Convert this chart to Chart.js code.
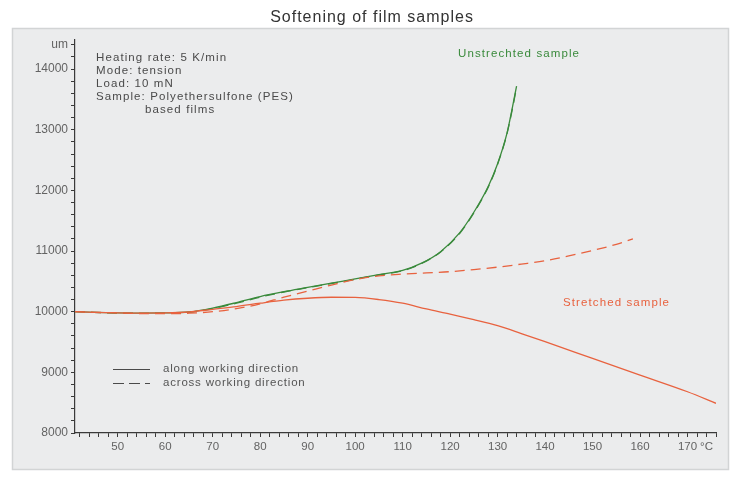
<!DOCTYPE html>
<html>
<head>
<meta charset="utf-8">
<script src="https://cdn.jsdelivr.net/npm/chart.js@4"></script>
<style>
  html, body { margin: 0; padding: 0; background: #fff; }
  #chart { display: block; }
</style>
</head>
<body>
<canvas id="chart" width="731" height="478"></canvas>
<script>
// ───────────────
// Data (temperature in °C, length in um)
const unstretchedTemps  = [41, 45, 50, 55, 60, 65, 70, 75, 80, 85, 90, 95, 100, 105, 110, 114, 118, 122, 125, 128, 130, 132, 133, 134];
const unstretchedAlong  = [10000, 9990, 9982, 9978, 9980, 9995, 10060, 10150, 10250, 10330, 10400, 10470, 10540, 10610, 10680, 10800, 10990, 11300, 11640, 12060, 12440, 12950, 13320, 13720];
const unstretchedAcross = [10000, 9988, 9978, 9974, 9976, 9990, 10050, 10140, 10240, 10325, 10395, 10465, 10535, 10605, 10675, 10795, 10985, 11290, 11630, 12050, 12430, 12940, 13300, 13700];

const stretchedAlongTemps = [41, 45, 50, 55, 60, 65, 70, 75, 80, 85, 90, 95, 100, 105, 110, 115, 120, 125, 130, 135, 140, 150, 160, 170, 176];
const stretchedAlong      = [10000, 9990, 9982, 9978, 9980, 9995, 10040, 10085, 10140, 10190, 10222, 10238, 10235, 10200, 10140, 10045, 9960, 9870, 9770, 9640, 9505, 9230, 8955, 8680, 8490];

const stretchedAcrossTemps = [41, 45, 50, 55, 60, 65, 70, 75, 80, 85, 90, 95, 100, 105, 110, 115, 120, 125, 130, 135, 140, 145, 150, 155, 158.5];
const stretchedAcross      = [10000, 9990, 9980, 9970, 9968, 9975, 10000, 10050, 10130, 10240, 10340, 10440, 10530, 10590, 10620, 10640, 10660, 10695, 10735, 10785, 10840, 10920, 11010, 11110, 11200];

// axis labels
const xLabelTicks = [50, 60, 70, 80, 90, 100, 110, 120, 130, 140, 150, 160, 170];
const yLabelTicks = [8000, 9000, 10000, 11000, 12000, 13000, 14000];
const xUnitTick = 174, xUnit = '°C';
const yUnitTick = 14400, yUnit = 'um';

const GREEN = '#3a8a3c';
const RED   = '#e8623f';
const FONT  = '"Liberation Sans", Arial, sans-serif';

const toPoints = (xs, ys) => xs.map((x, i) => ({ x, y: ys[i] }));

// ───────────────
// Background panel, title, notes and the legend
const decor = {
  id: 'decor',
  beforeDraw(chart) {
    const c = chart.ctx;
    c.save();
    c.fillStyle = '#fff';
    c.fillRect(0, 0, chart.width, chart.height);
    c.fillStyle = '#ebeced';
    c.fillRect(12, 28, 717, 442);
    c.strokeStyle = '#d2d4d5';
    c.lineWidth = 1.5;
    c.strokeRect(12.5, 28.5, 716, 441);
    c.fillStyle = '#333';
    c.font = '16px ' + FONT;
    c.letterSpacing = '1px';
    c.textAlign = 'center';
    c.textBaseline = 'middle';
    c.fillText('Softening of film samples', 372, 18);
    c.restore();
  },
  afterDraw(chart) {
    const c = chart.ctx;
    c.save();
    c.textBaseline = 'middle';
    c.textAlign = 'left';
    c.font = '11.5px ' + FONT;
    c.letterSpacing = '1.1px';
    c.fillStyle = '#4a4a4a';
    c.fillText('Heating rate: 5 K/min', 96, 58);
    c.fillText('Mode: tension', 96, 71);
    c.fillText('Load: 10 mN', 96, 84);
    c.fillText('Sample: Polyethersulfone (PES)', 96, 97);
    c.fillText('based films', 145, 110);

    c.fillStyle = GREEN;
    c.fillText('Unstrechted sample', 458, 54);
    c.fillStyle = RED;
    c.fillText('Stretched sample', 563, 303);

    // legend
    c.letterSpacing = '0.8px';
    c.fillStyle = '#555';
    c.fillText('along working direction', 163, 369);
    c.fillText('across working direction', 163, 383);
    c.strokeStyle = '#4a4a4a';
    c.lineWidth = 1.2;
    c.beginPath(); c.moveTo(113, 369.5); c.lineTo(150, 369.5); c.stroke();
    c.setLineDash([11, 5]);
    c.beginPath(); c.moveTo(113, 383.5); c.lineTo(150, 383.5); c.stroke();
    c.restore();
  }
};

const ctx = document.getElementById('chart');

new Chart(ctx, {
  type: 'line',
  data: {
    datasets: [
      {
        label: 'Stretched, across',
        data: toPoints(stretchedAcrossTemps, stretchedAcross),
        borderColor: RED, borderWidth: 1.3, borderDash: [10, 6]
      },
      {
        label: 'Stretched, along',
        data: toPoints(stretchedAlongTemps, stretchedAlong),
        borderColor: RED, borderWidth: 1.3
      },
      {
        label: 'Unstretched, across',
        data: toPoints(unstretchedTemps, unstretchedAcross),
        borderColor: GREEN, borderWidth: 1.3, borderDash: [10, 6]
      },
      {
        label: 'Unstretched, along',
        data: toPoints(unstretchedTemps, unstretchedAlong),
        borderColor: GREEN, borderWidth: 1.3
      }
    ]
  },
  options: {
    responsive: false,
    animation: false,
    parsing: false,
    elements: {
      point: { radius: 0 },
      line: { cubicInterpolationMode: 'monotone', fill: false }
    },
    layout: { padding: { left: 0, top: 40, right: 15, bottom: 0 } },
    plugins: {
      legend: { display: false },
      title: { display: false },
      tooltip: { enabled: false }
    },
    scales: {
      x: {
        type: 'linear',
        min: 41,
        max: 176,
        afterFit: s => { s.height = 45; },
        border: { display: true, color: '#3a3a3a', width: 1.2 },
        grid: { drawOnChartArea: false, drawTicks: true, tickLength: 4, color: '#3a3a3a' },
        ticks: {
          stepSize: 2,
          includeBounds: false,
          autoSkip: false,
          maxRotation: 0,
          padding: 3,
          color: '#636363',
          font: { family: FONT, size: 11.5 },
          callback: v => v === xUnitTick ? xUnit : (xLabelTicks.includes(v) ? String(v) : '')
        }
      },
      y: {
        type: 'linear',
        min: 8000,
        max: 14480,
        afterFit: s => { s.width = 75; },
        border: { display: true, color: '#3a3a3a', width: 1.2 },
        grid: { drawOnChartArea: false, drawTicks: true, tickLength: 4, color: '#3a3a3a' },
        ticks: {
          stepSize: 200,
          includeBounds: false,
          autoSkip: false,
          padding: 3,
          color: '#636363',
          font: { family: FONT, size: 12 },
          callback: v => v === yUnitTick ? yUnit : (yLabelTicks.includes(v) ? String(v) : '')
        }
      }
    }
  },
  plugins: [decor]
});
</script>
</body>
</html>
